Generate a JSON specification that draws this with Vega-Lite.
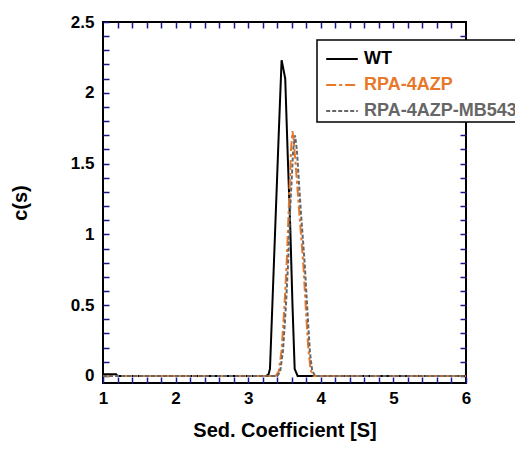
{
  "$schema": "https://vega.github.io/schema/vega-lite/v6.json",
  "width": 363,
  "height": 361,
  "autosize": {"type": "none"},
  "padding": {"left": 103, "top": 22, "right": 49, "bottom": 66},
  "background": "white",
  "config": {
    "view": {"stroke": "black", "strokeWidth": 2},
    "font": "Liberation Sans",
    "axis": {"grid": false, "domain": false}
  },
  "data": {"values": [
    {"s": 1.0, "c": 0.012, "series": "WT"},
    {"s": 1.18, "c": 0.012, "series": "WT"},
    {"s": 1.2, "c": 0.0, "series": "WT"},
    {"s": 3.25, "c": 0.0, "series": "WT"},
    {"s": 3.28, "c": 0.01, "series": "WT"},
    {"s": 3.30, "c": 0.05, "series": "WT"},
    {"s": 3.34, "c": 0.6, "series": "WT"},
    {"s": 3.38, "c": 1.15, "series": "WT"},
    {"s": 3.42, "c": 1.7, "series": "WT"},
    {"s": 3.46, "c": 2.23, "series": "WT"},
    {"s": 3.48, "c": 2.18, "series": "WT"},
    {"s": 3.51, "c": 2.10, "series": "WT"},
    {"s": 3.545, "c": 1.55, "series": "WT"},
    {"s": 3.58, "c": 1.04, "series": "WT"},
    {"s": 3.61, "c": 0.5, "series": "WT"},
    {"s": 3.64, "c": 0.05, "series": "WT"},
    {"s": 3.68, "c": 0.0, "series": "WT"},
    {"s": 6.0, "c": 0.0, "series": "WT"},
    {"s": 1.0, "c": 0.0, "series": "RPA-4AZP"},
    {"s": 3.38, "c": 0.0, "series": "RPA-4AZP"},
    {"s": 3.42, "c": 0.03, "series": "RPA-4AZP"},
    {"s": 3.46, "c": 0.18, "series": "RPA-4AZP"},
    {"s": 3.50, "c": 0.5, "series": "RPA-4AZP"},
    {"s": 3.53, "c": 0.8, "series": "RPA-4AZP"},
    {"s": 3.56, "c": 1.2, "series": "RPA-4AZP"},
    {"s": 3.59, "c": 1.6, "series": "RPA-4AZP"},
    {"s": 3.61, "c": 1.73, "series": "RPA-4AZP"},
    {"s": 3.63, "c": 1.65, "series": "RPA-4AZP"},
    {"s": 3.66, "c": 1.45, "series": "RPA-4AZP"},
    {"s": 3.70, "c": 1.18, "series": "RPA-4AZP"},
    {"s": 3.73, "c": 0.98, "series": "RPA-4AZP"},
    {"s": 3.76, "c": 0.78, "series": "RPA-4AZP"},
    {"s": 3.80, "c": 0.42, "series": "RPA-4AZP"},
    {"s": 3.83, "c": 0.18, "series": "RPA-4AZP"},
    {"s": 3.86, "c": 0.04, "series": "RPA-4AZP"},
    {"s": 3.90, "c": 0.0, "series": "RPA-4AZP"},
    {"s": 6.0, "c": 0.0, "series": "RPA-4AZP"},
    {"s": 1.0, "c": 0.0, "series": "RPA-4AZP-MB543"},
    {"s": 3.40, "c": 0.0, "series": "RPA-4AZP-MB543"},
    {"s": 3.44, "c": 0.03, "series": "RPA-4AZP-MB543"},
    {"s": 3.48, "c": 0.18, "series": "RPA-4AZP-MB543"},
    {"s": 3.52, "c": 0.5, "series": "RPA-4AZP-MB543"},
    {"s": 3.55, "c": 0.8, "series": "RPA-4AZP-MB543"},
    {"s": 3.58, "c": 1.2, "series": "RPA-4AZP-MB543"},
    {"s": 3.62, "c": 1.6, "series": "RPA-4AZP-MB543"},
    {"s": 3.645, "c": 1.70, "series": "RPA-4AZP-MB543"},
    {"s": 3.67, "c": 1.6, "series": "RPA-4AZP-MB543"},
    {"s": 3.72, "c": 1.2, "series": "RPA-4AZP-MB543"},
    {"s": 3.78, "c": 0.78, "series": "RPA-4AZP-MB543"},
    {"s": 3.82, "c": 0.42, "series": "RPA-4AZP-MB543"},
    {"s": 3.85, "c": 0.17, "series": "RPA-4AZP-MB543"},
    {"s": 3.88, "c": 0.04, "series": "RPA-4AZP-MB543"},
    {"s": 3.92, "c": 0.0, "series": "RPA-4AZP-MB543"},
    {"s": 6.0, "c": 0.0, "series": "RPA-4AZP-MB543"}
  ]},
  "layer": [
    {
      "mark": {"type": "line", "strokeWidth": 2},
      "encoding": {
        "x": {"field": "s", "type": "quantitative", "scale": {"domain": [1, 6], "nice": false, "zero": false},
          "axis": {"orient": "bottom", "values": [1, 1.2, 1.4, 1.6, 1.8, 2, 2.2, 2.4, 2.6, 2.8, 3, 3.2, 3.4, 3.6, 3.8, 4, 4.2, 4.4, 4.6, 4.8, 5, 5.2, 5.4, 5.6, 5.8, 6],
            "labelExpr": "abs(datum.value - round(datum.value)) < 0.01 ? format(datum.value, 'd') : ''",
            "labelOverlap": false, "ticks": true, "tickSize": -6, "tickWidth": 1.5, "tickColor": "#1a1a8a",
            "encoding": {"ticks": {"update": {"y2": {"signal": "abs(datum.value - round(datum.value)) < 0.01 ? -7 : -3"}}}},
            "labelPadding": 13, "labelFontSize": 17, "labelFontWeight": "bold", "labelColor": "black", "labelFlush": false,
            "title": "Sed. Coefficient [S]", "titleFontSize": 20, "titleFontWeight": "bold", "titleColor": "black", "titlePadding": 14}},
        "y": {"field": "c", "type": "quantitative", "scale": {"domain": [-0.05, 2.5], "nice": false, "zero": false},
          "axis": {"orient": "left", "values": [0, 0.1, 0.2, 0.3, 0.4, 0.5, 0.6, 0.7, 0.8, 0.9, 1, 1.1, 1.2, 1.3, 1.4, 1.5, 1.6, 1.7, 1.8, 1.9, 2, 2.1, 2.2, 2.3, 2.4, 2.5],
            "labelExpr": "abs(datum.value * 2 - round(datum.value * 2)) < 0.01 ? format(datum.value, '~g') : ''",
            "labelOverlap": false, "ticks": true, "tickSize": -6, "tickWidth": 1.5, "tickColor": "#1a1a8a",
            "encoding": {"ticks": {"update": {"x2": {"signal": "abs(datum.value * 2 - round(datum.value * 2)) < 0.01 ? 7 : 3"}}}},
            "labelPadding": 15, "labelFontSize": 17, "labelFontWeight": "bold", "labelColor": "black", "labelFlush": false,
            "title": "c(s)", "titleFontSize": 20, "titleFontWeight": "bold", "titleColor": "black", "titlePadding": 40}},
        "color": {"field": "series", "type": "nominal", "scale": {"domain": ["WT", "RPA-4AZP", "RPA-4AZP-MB543"], "range": ["#000000", "#e8782a", "#666666"]},
          "legend": {"title": null, "orient": "none", "legendX": 214, "legendY": 18, "strokeColor": "black", "fillColor": "white", "padding": 2, "symbolOffset": 6, "symbolType": "stroke", "symbolSize": 1000, "symbolStrokeWidth": 2, "labelFontSize": 18, "labelFontWeight": "bold", "labelOffset": 5, "rowPadding": -10,
            "labelLimit": 300,
            "encode": {"legend": {"update": {"strokeWidth": {"value": 1.5}}}, "labels": {"update": {"fill": {"signal": "datum.value == 'WT' ? '#000000' : datum.value == 'RPA-4AZP' ? '#e8782a' : '#666666'"}}}}}},
        "strokeDash": {"field": "series", "type": "nominal", "scale": {"domain": ["WT", "RPA-4AZP", "RPA-4AZP-MB543"], "range": [[1, 0], [10, 3, 3, 3], [4, 2]]}, "legend": null}
      }
    },
    {
      "mark": {"type": "point", "opacity": 0},
      "encoding": {
        "x": {"field": "s", "type": "quantitative",
          "axis": {"orient": "top", "values": [1.2, 1.4, 1.6, 1.8, 2, 2.2, 2.4, 2.6, 2.8, 3, 3.2, 3.4, 3.6, 3.8, 4, 4.2, 4.4, 4.6, 4.8, 5, 5.2, 5.4, 5.6, 5.8],
            "labelOpacity": 0, "tickSize": -6, "tickWidth": 1.5, "tickColor": "#1a1a8a",
            "encoding": {"ticks": {"update": {"y2": {"signal": "abs(datum.value - round(datum.value)) < 0.01 ? 7 : 3"}}}},
            "title": "t", "titleOpacity": 0}},
        "y": {"field": "c", "type": "quantitative",
          "axis": {"orient": "right", "values": [0, 0.1, 0.2, 0.3, 0.4, 0.5, 0.6, 0.7, 0.8, 0.9, 1, 1.1, 1.2, 1.3, 1.4, 1.5, 1.6, 1.7, 1.8, 1.9, 2, 2.1, 2.2, 2.3, 2.4],
            "labelOpacity": 0, "tickSize": -6, "tickWidth": 1.5, "tickColor": "#1a1a8a",
            "encoding": {"ticks": {"update": {"x2": {"signal": "abs(datum.value * 2 - round(datum.value * 2)) < 0.01 ? -7 : -3"}}}},
            "title": "t", "titleOpacity": 0}}
      }
    }
  ],
  "resolve": {"axis": {"x": "independent", "y": "independent"}}
}
